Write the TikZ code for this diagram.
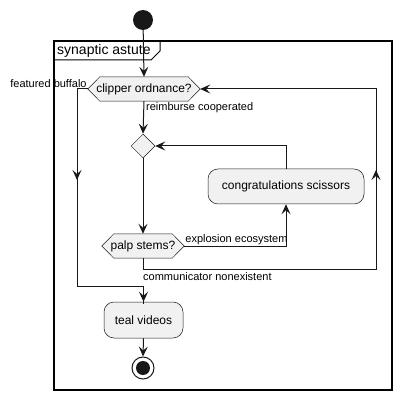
\documentclass[tikz,border=0pt]{standalone}
\usepackage{fontspec}
\setmainfont{Liberation Sans}
\usetikzlibrary{arrows.meta,shapes.geometric,calc}
\pgfdeclarelayer{bg}
\pgfsetlayers{bg,main}
\definecolor{nodefill}{HTML}{F1F1F1}
\definecolor{ink}{HTML}{181818}
\tikzset{
  arr/.style={draw=ink, line width=1pt, -{Stealth[length=10pt,width=9pt,inset=4pt]}},
  conn/.style={draw=ink, line width=1pt},
  actbox/.style={draw=ink, line width=0.5pt, fill=nodefill, rounded corners=10pt, font=\fontsize{12}{14}\selectfont, inner sep=0pt},
  hexlbl/.style={font=\fontsize{12}{14}\selectfont, inner sep=0pt},
  hexline/.style={draw=ink, line width=0.5pt, fill=nodefill},
  lbl/.style={font=\fontsize{11}{13}\selectfont, inner sep=1pt, text=black},
  mergebox/.style={diamond, draw=ink, line width=0.5pt, fill=nodefill, minimum width=24pt, minimum height=24pt, inner sep=0pt},
  startdot/.style={circle, fill=ink, minimum size=20pt, inner sep=0pt},
}
\newcommand{\hexof}[1]{%
  \begin{pgfonlayer}{bg}
  \draw[hexline] (#1.west) -- ([xshift=12pt]#1.north west) -- ([xshift=-12pt]#1.north east) -- (#1.east) -- ([xshift=-12pt]#1.south east) -- ([xshift=12pt]#1.south west) -- cycle;
  \end{pgfonlayer}}
\begin{document}
\begin{tikzpicture}[x=1pt,y=-1pt]
\useasboundingbox (0,0) rectangle (402,401);
% frame
\draw[black, line width=1.5pt] (54,41) rectangle (392,390);
\draw[black, line width=1pt] (54,60) -- (151,60) -- (160,51) -- (160,41);
\node[anchor=west, inner sep=0pt, font=\fontsize{14}{16}\selectfont] (title) at (57,51) {synaptic astute};
% nodes
\node[startdot] (start) at (143,20) {};
\node[hexlbl, minimum width=112pt, minimum height=24pt] (d1) at (144,89) {clipper ordnance?};
\hexof{d1}
\node[mergebox] (m) at (143,146) {};
\node[actbox, minimum width=156pt, minimum height=35pt] (cong) at (286,186.5) {congratulations scissors};
\node[hexlbl, minimum width=82pt, minimum height=24pt] (d2) at (143,246) {palp stems?};
\hexof{d2}
\node[actbox, minimum width=79pt, minimum height=36pt] (teal) at (143.5,320) {teal videos};
\node[circle, draw=ink, line width=1pt, fill=white, minimum size=22pt, inner sep=0pt] (end) at (143,368) {};
\node[circle, fill=ink, minimum size=14pt, inner sep=0pt] (endin) at (end.center) {};
% coordinates
\coordinate (lc) at (77,89);
\coordinate (lb) at (77,286);
\coordinate (lmid) at (77,180);
\coordinate (rb) at (376,269);
\coordinate (rmid) at (376,170);
% connectors
\draw[arr] (start) -- (d1.north);
\draw[arr] (d1.south) -- (m.north);
\node[lbl, anchor=west] (l1) at (145,108) {reimburse cooperated};
\draw[arr] (m.south) -- (d2.north);
\draw[arr] (d2.east) -| (cong.south);
\node[lbl, anchor=south west] (l2) at (d2.east) {explosion ecosystem};
\draw[arr] (cong.north) |- (m.east);
\draw[arr] (d2.south) |- (rb) -- (rb |- d1.east) -- (d1.east);
\draw[arr] ([yshift=-12pt]rmid) -- (rmid);
\node[lbl, anchor=west] (l3) at (142,277) {communicator nonexistent};
\draw[conn] (d1.west) -- (lc) -- (lb) -| ([yshift=-2pt]teal.north);
\draw[arr] (lb -| teal.north) -- (teal.north);
\draw[arr] ([yshift=12pt]lmid) -- (lmid);
\node[lbl, anchor=south east] (l4) at (d1.west) {featured buffalo};
\draw[arr] (teal.south) -- (end.north);
\end{tikzpicture}
\end{document}
